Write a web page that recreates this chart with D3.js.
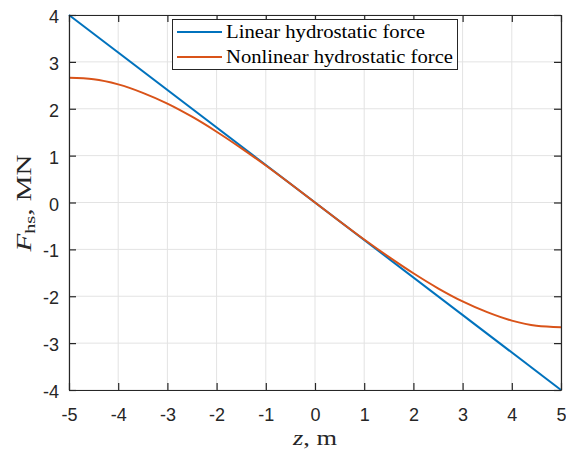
<!DOCTYPE html>
<html>
<head>
<meta charset="utf-8">
<script src="https://cdn.jsdelivr.net/npm/d3@7"></script>
<style>
html,body{margin:0;padding:0;background:#fff;}
svg{display:block;}
</style>
</head>
<body>
<svg id="chart" width="566" height="453"></svg>
<script>
// Data
const zLinear = [-5, 5];
const fLinear = [4, -4];
const zNonlinear = [-5,-4.5,-4,-3.5,-3,-2.5,-2,-1.5,-1,-0.5,0,0.5,1,1.5,2,2.5,3,3.5,4,4.5,5];
const fNonlinear = [2.66,2.63,2.52,2.34,2.11,1.83,1.51,1.16,0.79,0.40,0,-0.40,-0.79,-1.16,-1.51,-1.83,-2.11,-2.34,-2.52,-2.63,-2.66];
const xTicks = [-5,-4,-3,-2,-1,0,1,2,3,4,5];
const yTicks = [-4,-3,-2,-1,0,1,2,3,4];
const seriesNames = ["Linear hydrostatic force", "Nonlinear hydrostatic force"];
const seriesColors = ["#0072BD", "#D95319"];

const svg = d3.select("#chart");
const L = 69, R = 561, T = 15, B = 390;
const x = d3.scaleLinear().domain([-5,5]).range([L,R]);
const y = d3.scaleLinear().domain([-4,4]).range([B,T]);

const tickFont = "'Liberation Sans', Arial, Helvetica, sans-serif";
const serif = "'Liberation Serif', 'Times New Roman', serif";
const fmt = d => String(d);

// grid
const grid = svg.append("g");
grid.selectAll("line.gx").data(xTicks).enter().append("line")
  .attr("x1", d=>x(d)).attr("x2", d=>x(d)).attr("y1", T).attr("y2", B)
  .attr("stroke", "#e3e3e3").attr("stroke-width", 1);
grid.selectAll("line.gy").data(yTicks).enter().append("line")
  .attr("y1", d=>y(d)).attr("y2", d=>y(d)).attr("x1", L).attr("x2", R)
  .attr("stroke", "#e3e3e3").attr("stroke-width", 1);

// lines
const lineGen = d3.line().x(d=>x(d[0])).y(d=>y(d[1]));
const nlGen = d3.line().x(d=>x(d[0])).y(d=>y(d[1])).curve(d3.curveMonotoneX);
svg.append("path").datum(zLinear.map((z,i)=>[z,fLinear[i]]))
  .attr("d", lineGen).attr("fill","none").attr("stroke", seriesColors[0]).attr("stroke-width", 2);
svg.append("path").datum(zNonlinear.map((z,i)=>[z,fNonlinear[i]]))
  .attr("d", nlGen).attr("fill","none").attr("stroke", seriesColors[1]).attr("stroke-width", 2);

// axes
const tl = 7;
const axB = d3.axisBottom(x).tickValues(xTicks).tickSizeInner(-tl).tickSizeOuter(0).tickPadding(18).tickFormat(fmt);
const axT = d3.axisTop(x).tickValues(xTicks).tickSizeInner(-tl).tickSizeOuter(0).tickFormat("");
const axL = d3.axisLeft(y).tickValues(yTicks).tickSizeInner(-tl).tickSizeOuter(0).tickPadding(10).tickFormat(fmt);
const axR = d3.axisRight(y).tickValues(yTicks).tickSizeInner(-tl).tickSizeOuter(0).tickFormat("");
function style(g){
  g.select(".domain").attr("stroke","#262626").attr("stroke-width",1.2);
  g.selectAll(".tick line").attr("stroke","#262626").attr("stroke-width",1.2);
  g.selectAll(".tick text").attr("fill","#262626").style("font-family", tickFont).style("font-size","18px");
}
svg.append("g").attr("transform",`translate(0,${B})`).call(axB).call(style);
svg.append("g").attr("transform",`translate(0,${T})`).call(axT).call(style);
const gl = svg.append("g").attr("transform",`translate(${L},0)`).call(axL).call(style);
gl.selectAll(".tick text").attr("dy","0.42em");
svg.append("g").attr("transform",`translate(${R},0)`).call(axR).call(style);

// axis labels
const xl = svg.append("text").attr("x", 315).attr("y", 445).attr("text-anchor","middle")
  .attr("textLength", 44).attr("lengthAdjust","spacingAndGlyphs")
  .style("font-family", serif).style("font-size","20px").attr("fill","#262626");
xl.append("tspan").style("font-style","italic").text("z");
xl.append("tspan").text(", m");

const yl = svg.append("text").attr("transform","translate(31,203) rotate(-90)").attr("text-anchor","middle")
  .style("font-family", serif).style("font-size","20px").attr("fill","#262626");
yl.append("tspan").style("font-style","italic").text("F");
yl.append("tspan").attr("dy", 4).style("font-size","14px").text("hs");
yl.append("tspan").attr("dy", -4).text(", MN");
yl.attr("textLength", 97).attr("lengthAdjust","spacingAndGlyphs");

// legend
const lg = svg.append("g");
lg.append("rect").attr("x",172.5).attr("y",19.5).attr("width",285).attr("height",50)
  .attr("fill","#fff").attr("stroke","#262626").attr("stroke-width",1);
const legendWidths = [199, 227];
seriesNames.forEach((name,i)=>{
  const yy = 32 + i*25;
  lg.append("line").attr("x1",177).attr("x2",222).attr("y1",yy).attr("y2",yy)
    .attr("stroke",seriesColors[i]).attr("stroke-width",2);
  lg.append("text").attr("x",226).attr("y",yy+6).text(name)
    .attr("textLength", legendWidths[i]).attr("lengthAdjust","spacingAndGlyphs")
    .style("font-family", serif).style("font-size","18px").attr("fill","#000");
});
</script>
</body>
</html>
